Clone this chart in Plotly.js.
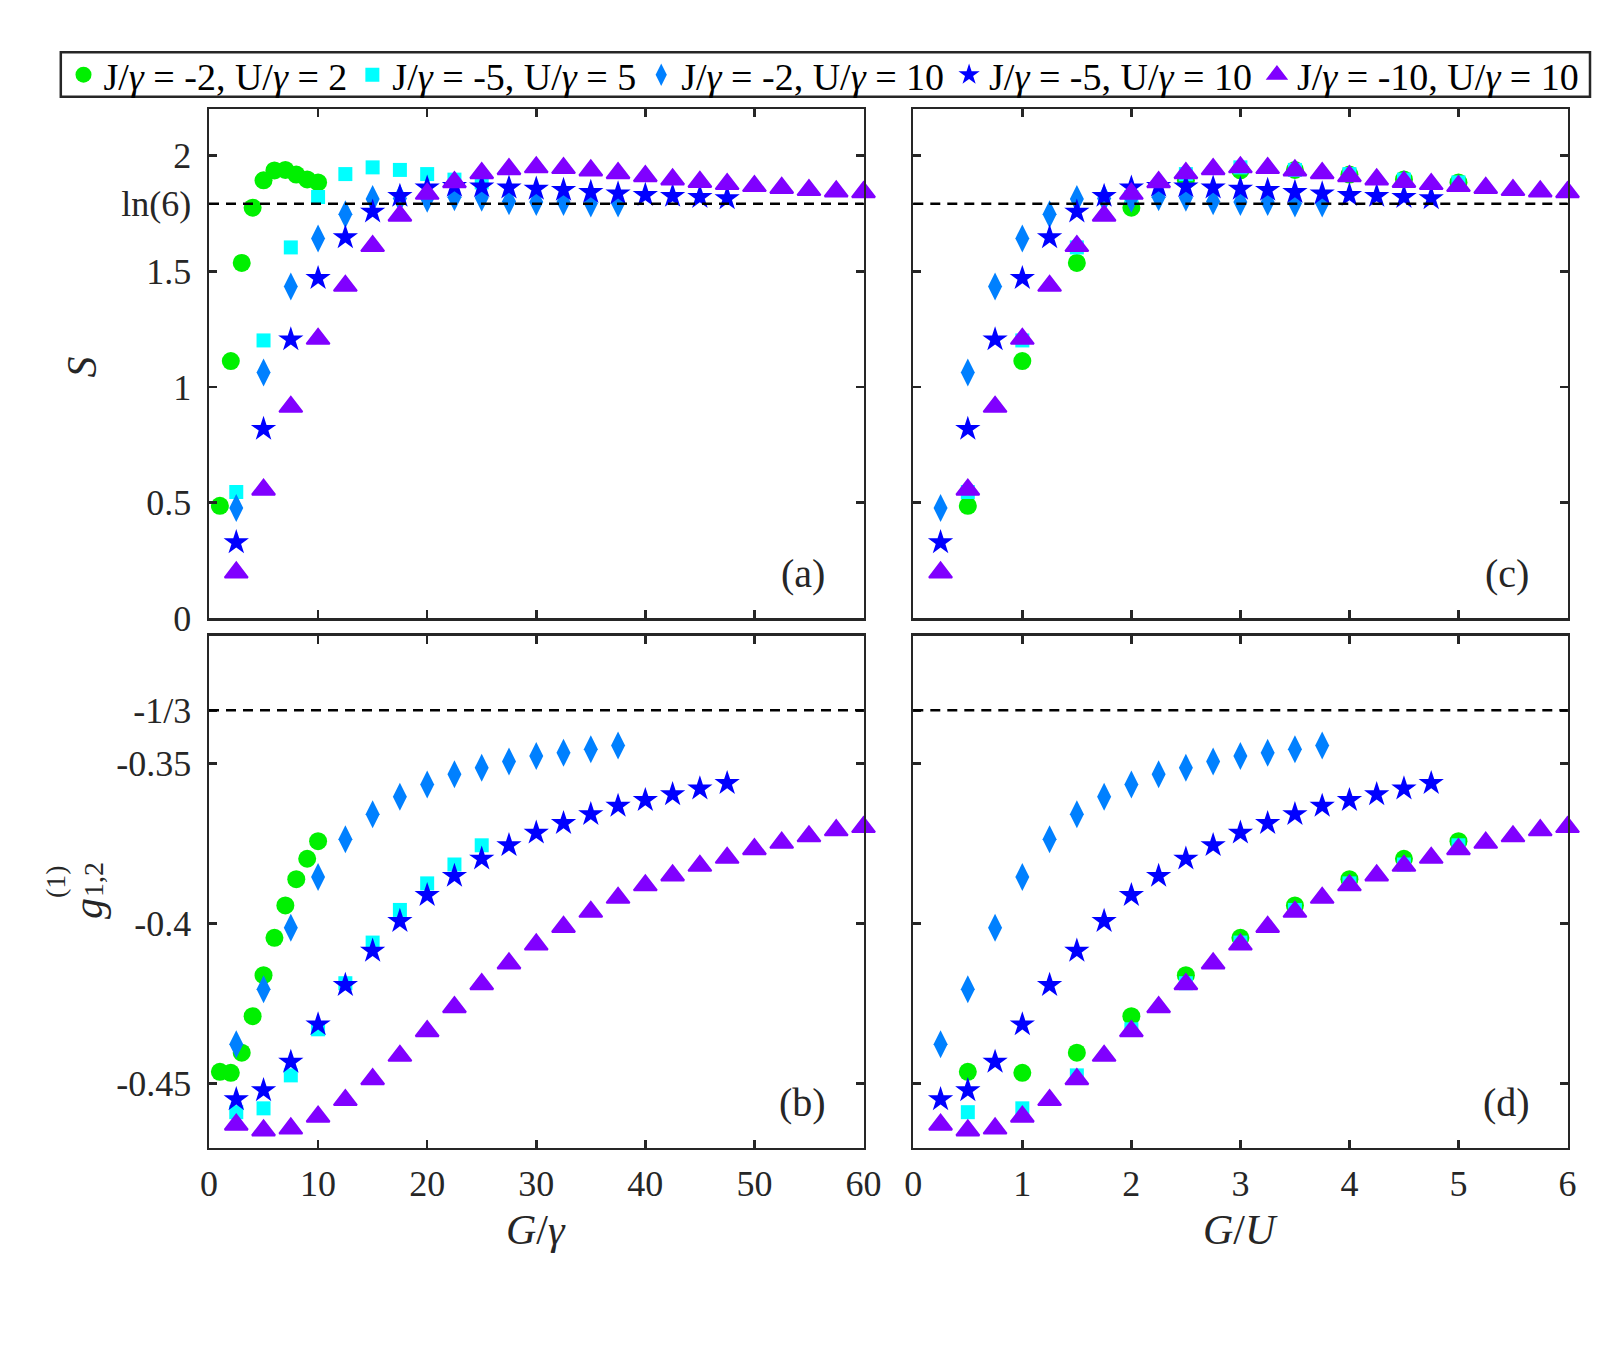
<!DOCTYPE html>
<html>
<head>
<meta charset="utf-8">
<script src="https://cdn.plot.ly/plotly-3.0.1.min.js"></script>
<style>body { margin: 0; background: #fff; }</style>
</head>
<body>
<div id="plot" style="width:1600px;height:1367px"></div>
<script>
'use strict';

// legend names and U/gamma of each parameter set
const names = [
    'J/<i>γ</i> = -2, U/<i>γ</i> = 2',
    'J/<i>γ</i> = -5, U/<i>γ</i> = 5',
    'J/<i>γ</i> = -2, U/<i>γ</i> = 10',
    'J/<i>γ</i> = -5, U/<i>γ</i> = 10',
    'J/<i>γ</i> = -10, U/<i>γ</i> = 10'
];
const U_over_gamma = [2, 5, 10, 10, 10];

// G/gamma for every set
const G_1 = [1, 2, 3, 4, 5, 6, 7, 8, 9, 10];
const G_2 = [2.5, 5, 7.5, 10, 12.5, 15, 17.5, 20, 22.5, 25];
const G_3 = [2.5, 5, 7.5, 10, 12.5, 15, 17.5, 20, 22.5, 25, 27.5, 30, 32.5, 35, 37.5];
const G_4 = [2.5, 5, 7.5, 10, 12.5, 15, 17.5, 20, 22.5, 25, 27.5, 30, 32.5, 35, 37.5, 40, 42.5, 45, 47.5];
const G_5 = [2.5, 5, 7.5, 10, 12.5, 15, 17.5, 20, 22.5, 25, 27.5, 30, 32.5, 35, 37.5, 40, 42.5, 45, 47.5, 50, 52.5, 55, 57.5, 60];

// entropy S
const S_1 = [0.486, 1.112, 1.536, 1.775, 1.893, 1.936, 1.938, 1.918, 1.897, 1.884];
const S_2 = [0.546, 1.201, 1.603, 1.821, 1.920, 1.949, 1.938, 1.920, 1.896, 1.884];
const S_3 = [0.477, 1.062, 1.434, 1.642, 1.746, 1.812, 1.815, 1.813, 1.820, 1.818, 1.803, 1.799, 1.799, 1.793, 1.793];
const S_4 = [0.328, 0.818, 1.205, 1.470, 1.646, 1.757, 1.825, 1.861, 1.868, 1.866, 1.861, 1.856, 1.851, 1.842, 1.836, 1.829, 1.825, 1.820, 1.815];
const S_5 = [0.198, 0.556, 0.914, 1.208, 1.437, 1.609, 1.740, 1.835, 1.885, 1.924, 1.941, 1.949, 1.946, 1.936, 1.924, 1.911, 1.897, 1.886, 1.877, 1.868, 1.860, 1.851, 1.845, 1.842];

// correlation g(1)_{1,2}
const g_1 = [-0.4463, -0.4466, -0.4403, -0.4289, -0.4161, -0.4044, -0.3943, -0.3861, -0.3797, -0.3742];
const g_2 = [-0.4589, -0.4577, -0.4474, -0.4330, -0.4186, -0.4059, -0.3957, -0.3874, -0.3815, -0.3755];
const g_3 = [-0.4377, -0.4205, -0.4013, -0.3854, -0.3736, -0.3658, -0.3603, -0.3565, -0.3533, -0.3513, -0.3493, -0.3476, -0.3466, -0.3455, -0.3443];
const g_4 = [-0.4549, -0.4521, -0.4432, -0.4315, -0.4192, -0.4085, -0.3992, -0.3911, -0.3851, -0.3797, -0.3755, -0.3716, -0.3686, -0.3658, -0.3632, -0.3614, -0.3596, -0.3578, -0.3561];
const g_5 = [-0.4628, -0.4646, -0.4640, -0.4603, -0.4551, -0.4486, -0.4413, -0.4336, -0.4261, -0.4189, -0.4124, -0.4065, -0.4010, -0.3963, -0.3919, -0.3880, -0.3849, -0.3819, -0.3794, -0.3767, -0.3747, -0.3727, -0.3708, -0.3698];

// tick labels
const S_ticks = [0, 0.5, 1, 1.5, Math.log(6), 2];
const S_ticktext = ['0', '0.5', '1', '1.5', 'ln(6)', '2'];
const g_ticks = [-0.45, -0.4, -0.35, -1 / 3];
const g_ticktext = ['-0.45', '-0.4', '-0.35', '-1/3'];

const G_all = [G_1, G_2, G_3, G_4, G_5];
const S_all = [S_1, S_2, S_3, S_4, S_5];
const g_all = [g_1, g_2, g_3, g_4, g_5];

const markers = [
    { symbol: 'circle', size: 18, color: '#00f000' },
    { symbol: 'square', size: 14, color: '#00ffff' },
    { symbol: 'diamond-tall', size: 20, color: '#0080ff' },
    { symbol: 'star', size: 19, color: '#0000ff' },
    { symbol: 'triangle-up', size: 20, color: '#8000ff', line: { width: 2, color: '#8000ff' } }
];

const FONT = 'Liberation Serif, Times New Roman, serif';
const AXCOL = '#262626';

var traces = [];
for (let i = 0; i < 5; i++) {
    const GU = G_all[i].map(v => v / U_over_gamma[i]);
    const panels = [
        { x: G_all[i], y: S_all[i], xa: 'x', ya: 'y', leg: true },
        { x: G_all[i], y: g_all[i], xa: 'x2', ya: 'y2', leg: false },
        { x: GU, y: S_all[i], xa: 'x3', ya: 'y3', leg: false },
        { x: GU, y: g_all[i], xa: 'x4', ya: 'y4', leg: false }
    ];
    panels.forEach(p => {
        traces.push({
            x: p.x, y: p.y, xaxis: p.xa, yaxis: p.ya,
            type: 'scatter', mode: 'markers',
            name: names[i], showlegend: p.leg, legendgroup: 'g' + i,
            marker: Object.assign({ line: { width: 0 } }, markers[i]),
            cliponaxis: false, hoverinfo: 'skip'
        });
    });
}

// panel edges in pixels of the 1600x1367 page
const W = 1600, H = 1367;
const leftDom = [209 / W, 863.5 / W];
const rightDom = [913.3 / W, 1567.5 / W];
const topDom = [1 - 618.3 / H, 1 - 109.3 / H];
const botDom = [1 - 1147.7 / H, 1 - 635.7 / H];

function axis(extra) {
    return Object.assign({
        showgrid: false, zeroline: false, showline: true, mirror: 'ticks',
        linecolor: AXCOL, linewidth: 2.5, ticks: 'inside', ticklen: 8,
        tickwidth: 2.5, tickcolor: AXCOL, ticklabelstandoff: 8,
        tickfont: { family: FONT, size: 36, color: AXCOL }
    }, extra);
}

function dashed(yref, y) {
    return {
        type: 'line', xref: yref.replace('y', 'x') + ' domain', x0: 0, x1: 1,
        yref: yref, y0: y, y1: y, layer: 'above',
        line: { color: '#000', width: 2.5, dash: '10px,7px' }
    };
}

function label(text, px, py, size, angle) {
    return {
        text: text, xref: 'paper', yref: 'paper', x: px / W, y: 1 - py / H,
        xanchor: 'center', yanchor: 'middle', showarrow: false,
        textangle: angle || 0, font: { family: FONT, size: size, color: AXCOL }
    };
}

// frame drawn round the legend
const legendBox = {
    type: 'rect', xref: 'paper', yref: 'paper',
    x0: 60.8 / W, x1: 1590 / W, y0: 1 - 96.7 / H, y1: 1 - 52.3 / H,
    line: { color: AXCOL, width: 2.5 }, fillcolor: 'rgba(0,0,0,0)', layer: 'above'
};

var layout = {
    width: W, height: H,
    margin: { l: 0, r: 0, t: 0, b: 0 },
    paper_bgcolor: '#fff', plot_bgcolor: '#fff',
    font: { family: FONT, color: AXCOL },
    xaxis: axis({ domain: leftDom, anchor: 'y', range: [0, 60], dtick: 10, showticklabels: false }),
    yaxis: axis({ domain: topDom, anchor: 'x', range: [0, 2.2], tickvals: S_ticks, ticktext: S_ticktext }),
    xaxis2: axis({ domain: leftDom, anchor: 'y2', range: [0, 60], dtick: 10, ticklabelstandoff: 3 }),
    yaxis2: axis({ domain: botDom, anchor: 'x2', range: [-0.47, -0.31], tickvals: g_ticks, ticktext: g_ticktext }),
    xaxis3: axis({ domain: rightDom, anchor: 'y3', range: [0, 6], dtick: 1, showticklabels: false }),
    yaxis3: axis({ domain: topDom, anchor: 'x3', range: [0, 2.2], tickvals: S_ticks, showticklabels: false }),
    xaxis4: axis({ domain: rightDom, anchor: 'y4', range: [0, 6], dtick: 1, ticklabelstandoff: 3 }),
    yaxis4: axis({ domain: botDom, anchor: 'x4', range: [-0.47, -0.31], tickvals: g_ticks, showticklabels: false }),
    shapes: [
        dashed('y', Math.log(6)), dashed('y3', Math.log(6)),
        dashed('y2', -1 / 3), dashed('y4', -1 / 3),
        legendBox
    ],
    annotations: [
        label('(a)', 802.5, 573.3, 40), label('(b)', 802.5, 1102.7, 40),
        label('(c)', 1506.5, 573.3, 40), label('(d)', 1506.5, 1102.7, 40),
        label('<i>S</i>', 81.7, 366.7, 42, -90),
        label('<i>G</i>/<i>γ</i>', 536, 1230, 42),
        label('<i>G</i>/<i>U</i>', 1240, 1230, 42),
        label('<i>g</i>', 88, 909, 42, -90),
        label('(1)', 55, 882, 28, -90),
        label('1,2', 93, 880, 28, -90)
    ],
    legend: {
        orientation: 'h', x: 63.5 / W, y: 1 - 75 / H, xanchor: 'left', yanchor: 'middle',
        borderwidth: 0, bgcolor: 'rgba(0,0,0,0)',
        font: { family: FONT, size: 38, color: '#000' }
    },
    showlegend: true
};

Plotly.newPlot('plot', traces, layout, { staticPlot: true });
</script>
</body>
</html>
